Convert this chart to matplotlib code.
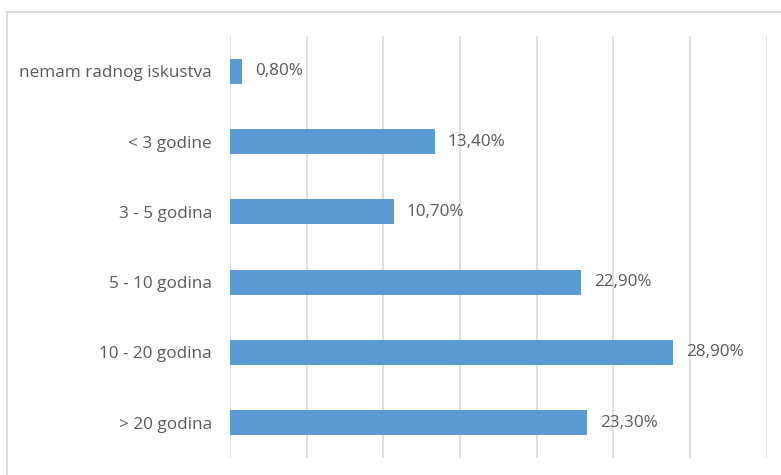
import matplotlib.pyplot as plt
from matplotlib.patches import Rectangle

categories = [
    "nemam radnog iskustva",
    "< 3 godine",
    "3 - 5 godina",
    "5 - 10 godina",
    "10 - 20 godina",
    "> 20 godina",
]
values = [0.8, 13.4, 10.7, 22.9, 28.9, 23.3]
value_labels = ["0,80%", "13,40%", "10,70%", "22,90%", "28,90%", "23,30%"]

BAR_COLOR = "#5B9BD5"
TEXT_COLOR = "#595959"
GRID_COLOR = "#D9D9D9"

plt.rcParams["font.family"] = ["Open Sans", "DejaVu Sans"]

fig = plt.figure(figsize=(7.81, 4.75), dpi=100)

# outer chart frame, runs off the right and bottom edges
fig.patches.append(
    Rectangle((7 / 781, -0.1), 1.0, 1 - 12 / 475 + 0.1,
              transform=fig.transFigure, fill=False,
              edgecolor=GRID_COLOR, linewidth=1.5)
)

ax = fig.add_axes([230 / 781, 17 / 475, (766.7 - 230) / 781, (458 - 36) / 475])

y_pos = list(range(len(categories)))
bars = ax.barh(y_pos, values, height=0.36, color=BAR_COLOR, zorder=3)

for bar, label in zip(bars, value_labels):
    ax.annotate(
        label,
        xy=(bar.get_width(), bar.get_y() + bar.get_height() / 2),
        xytext=(9, 0),
        textcoords="offset points",
        va="center",
        ha="left",
        fontsize=12.3,
        color=TEXT_COLOR,
    )

ax.set_xlim(0, 35)
ax.set_ylim(len(categories) - 0.5, -0.5)
ax.set_xticks(range(0, 36, 5))
ax.set_xticklabels([])
ax.set_yticks(y_pos)
ax.set_yticklabels(categories, fontsize=12.3, color=TEXT_COLOR)
ax.tick_params(axis="both", length=0)
ax.tick_params(axis="y", pad=13)
ax.grid(axis="x", color=GRID_COLOR, linewidth=1.2, zorder=0)

for spine in ax.spines.values():
    spine.set_visible(False)

fig.savefig("out.png", dpi=100)
